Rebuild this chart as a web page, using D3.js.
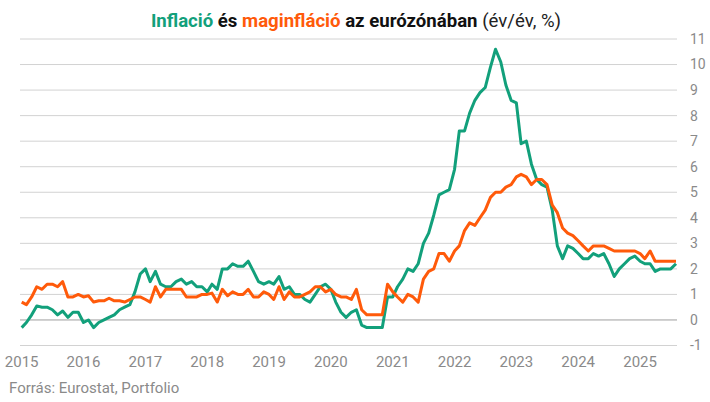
<!DOCTYPE html>
<html>
<head>
<meta charset="utf-8">
<script src="https://cdn.jsdelivr.net/npm/d3@7"></script>
<style>
  body { margin: 0; background: #fff; }
  svg { font-family: Roboto, "Noto Sans", sans-serif; }
</style>
</head>
<body>
<script>
// monthly y/y rates, Feb 2015 .. Sep 2025
const inflation = [
  -0.3, -0.1, 0.2, 0.55, 0.5, 0.5, 0.4, 0.2, 0.35, 0.1, 0.3,          // 2015
  0.3, -0.1, 0.0, -0.3, -0.1, 0.0, 0.1, 0.2, 0.4, 0.5, 0.6, 1.1,      // 2016
  1.8, 2.0, 1.5, 1.9, 1.4, 1.3, 1.3, 1.5, 1.6, 1.4, 1.5, 1.3,         // 2017
  1.3, 1.1, 1.4, 1.2, 2.0, 2.0, 2.2, 2.1, 2.1, 2.3, 1.9, 1.5,         // 2018
  1.4, 1.5, 1.4, 1.7, 1.2, 1.3, 1.0, 1.0, 0.8, 0.7, 1.0, 1.3,         // 2019
  1.4, 1.2, 0.7, 0.3, 0.1, 0.3, 0.4, -0.2, -0.3, -0.3, -0.3, -0.3,    // 2020
  0.9, 0.9, 1.3, 1.6, 2.0, 1.9, 2.2, 3.0, 3.4, 4.1, 4.9, 5.0,         // 2021
  5.1, 5.9, 7.4, 7.4, 8.1, 8.6, 8.9, 9.1, 9.9, 10.6, 10.1, 9.2,       // 2022
  8.6, 8.5, 6.9, 7.0, 6.1, 5.5, 5.3, 5.2, 4.3, 2.9, 2.4, 2.9,         // 2023
  2.8, 2.6, 2.4, 2.4, 2.6, 2.5, 2.6, 2.2, 1.7, 2.0, 2.2, 2.4,         // 2024
  2.5, 2.3, 2.2, 2.2, 1.9, 2.0, 2.0, 2.0, 2.2                         // 2025
];
const coreInflation = [
  0.7, 0.6, 0.9, 1.3, 1.2, 1.4, 1.4, 1.3, 1.5, 0.9, 0.9,              // 2015
  1.0, 0.9, 0.95, 0.7, 0.75, 0.75, 0.85, 0.75, 0.75, 0.7, 0.8, 0.9,   // 2016
  0.9, 0.8, 0.7, 1.3, 0.9, 1.2, 1.2, 1.2, 1.2, 0.9, 0.9, 0.9,         // 2017
  1.0, 1.0, 1.05, 0.7, 1.2, 0.95, 1.1, 1.0, 1.0, 1.2, 0.9, 0.9,       // 2018
  1.1, 1.0, 0.8, 1.3, 0.8, 1.1, 0.9, 0.9, 1.0, 1.1, 1.3, 1.3,         // 2019
  1.1, 1.2, 1.0, 0.9, 0.9, 0.8, 1.2, 0.4, 0.2, 0.2, 0.2, 0.2,         // 2020
  1.4, 1.1, 0.9, 0.7, 1.0, 0.9, 0.7, 1.6, 1.9, 2.0, 2.6, 2.6,         // 2021
  2.3, 2.7, 2.9, 3.5, 3.8, 3.7, 4.0, 4.3, 4.8, 5.0, 5.0, 5.2,         // 2022
  5.3, 5.6, 5.7, 5.6, 5.3, 5.5, 5.5, 5.3, 4.5, 4.2, 3.6, 3.4,         // 2023
  3.3, 3.1, 2.9, 2.7, 2.9, 2.9, 2.9, 2.8, 2.7, 2.7, 2.7, 2.7,         // 2024
  2.7, 2.6, 2.4, 2.7, 2.3, 2.3, 2.3, 2.3, 2.3                         // 2025
];
const years = [2015, 2016, 2017, 2018, 2019, 2020, 2021, 2022, 2023, 2024, 2025];
const yTicks = [-1, 0, 1, 2, 3, 4, 5, 6, 7, 8, 9, 10, 11];

const green = "#12a07b";
const orange = "#ff5a0a";

const width = 710, height = 402;
const dates = inflation.map((_, i) => new Date(2015, 1 + i, 1));

const svg = d3.select("body").append("svg")
  .attr("width", width)
  .attr("height", height);

const x = d3.scaleTime()
  .domain([dates[0], dates[dates.length - 1]])
  .range([21.7, 676]);

const y = d3.scaleLinear()
  .domain([-1, 11])
  .range([345.5, 39]);

// horizontal grid
svg.append("g")
  .selectAll("line")
  .data(yTicks)
  .enter()
  .append("line")
  .attr("x1", 20)
  .attr("x2", 677)
  .attr("y1", d => y(d))
  .attr("y2", d => y(d))
  .attr("stroke", d => d === 0 ? "#9e9e9e" : "#d2d2d2")
  .attr("stroke-width", 1);

// y labels on the right
svg.append("g")
  .selectAll("text")
  .data(yTicks)
  .enter()
  .append("text")
  .attr("x", 690)
  .attr("y", d => y(d))
  .attr("dy", "0.35em")
  .attr("font-size", 14)
  .attr("fill", "#8a8a8a")
  .text(d => d);

// year labels
svg.append("g")
  .selectAll("text")
  .data(years)
  .enter()
  .append("text")
  .attr("x", d => x(new Date(d, 1, 1)))
  .attr("y", 366.5)
  .attr("text-anchor", "middle")
  .attr("font-size", 15)
  .attr("fill", "#8a8a8a")
  .text(d => d);

const line = d3.line()
  .x((d, i) => x(dates[i]))
  .y(d => y(d));

svg.append("path")
  .datum(inflation)
  .attr("d", line)
  .attr("fill", "none")
  .attr("stroke", green)
  .attr("stroke-width", 3)
  .attr("stroke-linejoin", "round");

svg.append("path")
  .datum(coreInflation)
  .attr("d", line)
  .attr("fill", "none")
  .attr("stroke", orange)
  .attr("stroke-width", 3)
  .attr("stroke-linejoin", "round");

// title
const title = svg.append("text")
  .attr("x", 356)
  .attr("y", 26.5)
  .attr("text-anchor", "middle")
  .attr("font-size", 18.6)
  .attr("fill", "#111");
title.append("tspan").attr("font-weight", "bold").attr("fill", green).text("Inflació");
title.append("tspan").attr("font-weight", "bold").text(" és ");
title.append("tspan").attr("font-weight", "bold").attr("fill", orange).text("maginfláció");
title.append("tspan").attr("font-weight", "bold").text(" az eurózónában");
title.append("tspan").attr("fill", "#222").text(" (év/év, %)");

// source
svg.append("text")
  .attr("x", 9)
  .attr("y", 393)
  .attr("font-size", 15)
  .attr("fill", "#8a8a8a")
  .text("Forrás: Eurostat, Portfolio");
</script>
</body>
</html>
